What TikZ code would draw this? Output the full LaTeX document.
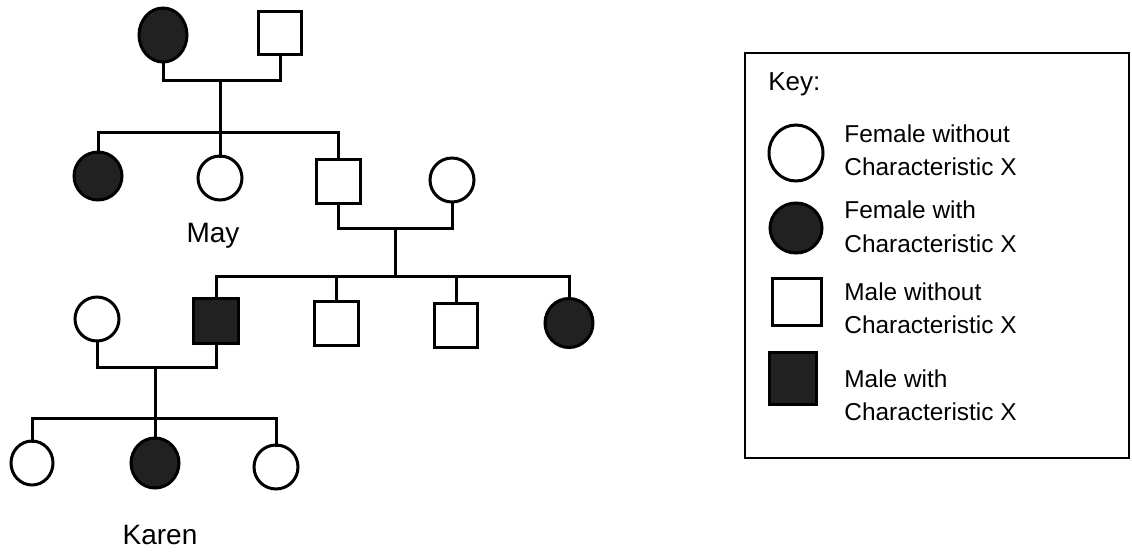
\documentclass[tikz,border=0pt]{standalone}
\usepackage{fontspec}
\setmainfont{Liberation Sans}
\usetikzlibrary{shapes.geometric}
\definecolor{affected}{gray}{0.13}
\tikzset{
  person/.style={draw=black, line width=1.5pt, inner sep=0pt, outer sep=0pt},
  fem/.style={person, ellipse, fill=white},
  femx/.style={person, ellipse, fill=affected},
  mal/.style={person, rectangle, fill=white},
  malx/.style={person, rectangle, fill=affected},
  link/.style={line width=1.5pt, line join=miter, line cap=rect},
  pedlabel/.style={font=\fontsize{14}{16}\selectfont, inner sep=0pt},
  keytext/.style={font=\fontsize{12.2}{14}\selectfont, inner sep=0pt, anchor=base west},
}
\begin{document}
\begin{tikzpicture}[x=0.5pt,y=-0.5pt]
\useasboundingbox (0,0) rectangle (1132,553);
% Generation 1
\node[femx, minimum width=24pt, minimum height=27pt] (gm) at (163,35) {};
\node[mal, minimum width=21.5pt, minimum height=21.5pt] (gf) at (280,33) {};
\coordinate (c1) at (220,80);
\coordinate (s1) at (220,132);
\draw[link] (gm.south) |- (c1) -| (gf.south);
% Generation 2
\node[femx, minimum width=24pt, minimum height=24pt] (a1) at (98,176) {};
\node[fem, minimum width=22pt, minimum height=22pt] (may) at (220,178) {};
\node[mal, minimum width=22pt, minimum height=22pt] (m2) at (338,181) {};
\node[fem, minimum width=22pt, minimum height=22pt] (sp) at (452,180) {};
\draw[link] (c1) -- (may.north);
\draw[link] (a1.north) |- (s1) -| (m2.north);
\node[pedlabel] (mayl) at (213,236) {May};
\coordinate (c2) at (395,228);
\coordinate (s2) at (395,276);
\draw[link] (m2.south) |- (c2) -| (sp.south);
\draw[link] (c2) -- (s2);
% Generation 3
\node[fem, minimum width=22pt, minimum height=22pt] (w3) at (97,319) {};
\node[malx, minimum width=22.5pt, minimum height=22.5pt] (m3) at (216,321) {};
\node[mal, minimum width=22pt, minimum height=22pt] (b1) at (336,323) {};
\node[mal, minimum width=21.5pt, minimum height=22pt] (b2) at (456,325) {};
\node[femx, minimum width=24pt, minimum height=24.5pt] (d3) at (569,323) {};
\draw[link] (m3.north) |- (s2) -| (d3.north);
\draw[link] (b1.north) -- (b1.north |- s2);
\draw[link] (b2.north) -- (b2.north |- s2);
\coordinate (c3) at (155,367);
\coordinate (s3) at (155,418);
\draw[link] (w3.south) |- (c3) -| (m3.south);
\draw[link] (c3) -- (s3);
% Generation 4
\node[fem, minimum width=21pt, minimum height=22pt] (k1) at (32,463) {};
\node[femx, minimum width=24pt, minimum height=25pt] (karen) at (155,463) {};
\node[fem, minimum width=22pt, minimum height=22pt] (k3) at (276,467) {};
\draw[link] (k1.north) |- (s3) -| (k3.north);
\draw[link] (s3) -- (karen.north);
\node[pedlabel] (karenl) at (160,535) {Karen};
% Key
\node[draw=black, line width=1.2pt, minimum width=192pt, minimum height=202.5pt, inner sep=0pt] (keybox) at (937,255.5) {};
\node[font=\fontsize{13}{15}\selectfont, inner sep=0pt, anchor=base west] (keyt) at (768,90) {Key:};
\node[fem, minimum width=27pt, minimum height=28pt] (kf) at (796,153) {};
\node[keytext] (kf1) at (844,142) {Female without};
\node[keytext] (kf2) at (844,175) {Characteristic X};
\node[femx, minimum width=26pt, minimum height=25pt] (kfx) at (796,228) {};
\node[keytext] (kfx1) at (844,218) {Female with};
\node[keytext] (kfx2) at (844,252) {Characteristic X};
\node[mal, minimum width=24.5pt, minimum height=23.5pt] (km) at (797,302) {};
\node[keytext] (km1) at (844,300) {Male without};
\node[keytext] (km2) at (844,333) {Characteristic X};
\node[malx, minimum width=23.5pt, minimum height=26pt] (kmx) at (793,378) {};
\node[keytext] (kmx1) at (844,387) {Male with};
\node[keytext] (kmx2) at (844,420) {Characteristic X};
\end{tikzpicture}
\end{document}
